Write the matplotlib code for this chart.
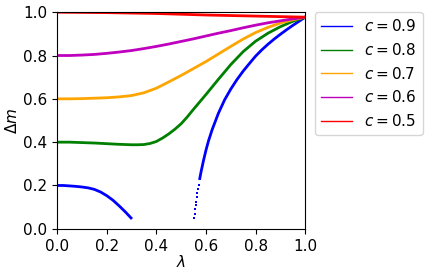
import matplotlib
matplotlib.use('Agg')
import matplotlib.pyplot as plt

# c = 0.9 (two branches, gap in the middle)
lam_09a = [0.0, 0.025, 0.05, 0.075, 0.1, 0.125, 0.15, 0.175, 0.2, 0.225, 0.25, 0.275, 0.298]
dm_09a = [0.2, 0.2, 0.198, 0.196, 0.193, 0.189, 0.182, 0.17, 0.153, 0.132, 0.106, 0.078, 0.05]
lam_09b = [0.552, 0.554, 0.556, 0.558, 0.56, 0.5625, 0.565, 0.5675, 0.57, 0.575, 0.58, 0.59, 0.6, 0.61, 0.625,
           0.65, 0.675, 0.7, 0.725, 0.75, 0.775, 0.8, 0.825, 0.85, 0.875, 0.9, 0.925, 0.95, 0.975, 1.0]
dm_09b = [0.05, 0.07, 0.09, 0.108, 0.125, 0.145, 0.165, 0.183, 0.2, 0.232, 0.262, 0.315, 0.363, 0.405, 0.458,
          0.533, 0.595, 0.645, 0.689, 0.728, 0.763, 0.797, 0.826, 0.852, 0.876, 0.898, 0.919, 0.939, 0.958, 0.977]

# c = 0.8
lam_08 = [0.0, 0.05, 0.1, 0.15, 0.2, 0.25, 0.3, 0.325, 0.35, 0.375, 0.4, 0.425, 0.45, 0.475, 0.5,
          0.525, 0.55, 0.575, 0.6, 0.625, 0.65, 0.7, 0.75, 0.8, 0.85, 0.9, 0.95, 1.0]
dm_08 = [0.4, 0.4, 0.398, 0.396, 0.393, 0.39, 0.388, 0.388, 0.389, 0.394, 0.403, 0.419, 0.438, 0.46, 0.485,
         0.517, 0.552, 0.586, 0.62, 0.655, 0.69, 0.758, 0.818, 0.866, 0.903, 0.933, 0.958, 0.977]

# c = 0.7
lam_07 = [0.0, 0.05, 0.1, 0.15, 0.2, 0.25, 0.3, 0.35, 0.4, 0.45, 0.5, 0.55, 0.6, 0.65, 0.7,
          0.75, 0.8, 0.85, 0.9, 0.95, 1.0]
dm_07 = [0.6, 0.6, 0.601, 0.603, 0.605, 0.609, 0.615, 0.628, 0.649, 0.678, 0.708, 0.74, 0.772, 0.807, 0.842,
         0.876, 0.906, 0.93, 0.95, 0.965, 0.977]

# c = 0.6
lam_06 = [0.0, 0.05, 0.1, 0.15, 0.2, 0.25, 0.3, 0.35, 0.4, 0.45, 0.5, 0.55, 0.6, 0.65, 0.7,
          0.75, 0.8, 0.85, 0.9, 0.95, 1.0]
dm_06 = [0.8, 0.8, 0.802, 0.805, 0.81, 0.816, 0.823, 0.832, 0.842, 0.853, 0.865, 0.877, 0.89, 0.903, 0.915,
         0.928, 0.94, 0.951, 0.96, 0.969, 0.977]

# c = 0.5
lam_05 = [0.0, 0.2, 0.4, 0.6, 0.8, 1.0]
dm_05 = [1.0, 0.998, 0.994, 0.987, 0.982, 0.977]

plt.rcParams['font.size'] = 11

fig = plt.figure(figsize=(4.36, 2.77), dpi=100)
ax = fig.add_axes([0.131, 0.174, 0.569, 0.782])

lw = 2
ax.plot(lam_09a, dm_09a, color='blue', lw=lw, label='$c = 0.9$')
# lower end of the right branch is sparse -> draw as separate dots
ax.plot(lam_09b[:10], dm_09b[:10], color='blue', ls='none', marker='s', ms=1.6, mew=0)
ax.plot(lam_09b[9:], dm_09b[9:], color='blue', lw=lw)
ax.plot(lam_08, dm_08, color='green', lw=lw, label='$c = 0.8$')
ax.plot(lam_07, dm_07, color='orange', lw=lw, label='$c = 0.7$')
ax.plot(lam_06, dm_06, color='m', lw=lw, label='$c = 0.6$')
ax.plot(lam_05, dm_05, color='red', lw=lw, label='$c = 0.5$')

ax.set_xlim(0, 1)
ax.set_ylim(0, 1)
ax.set_xlabel(r'$\lambda$', labelpad=0)
ax.set_ylabel(r'$\Delta m$', labelpad=2)

leg = ax.legend(loc='upper left', bbox_to_anchor=(1.04, 1.0), borderaxespad=0)
for line in leg.get_lines():
    line.set_linewidth(1)

fig.savefig('out.png', dpi=100)
